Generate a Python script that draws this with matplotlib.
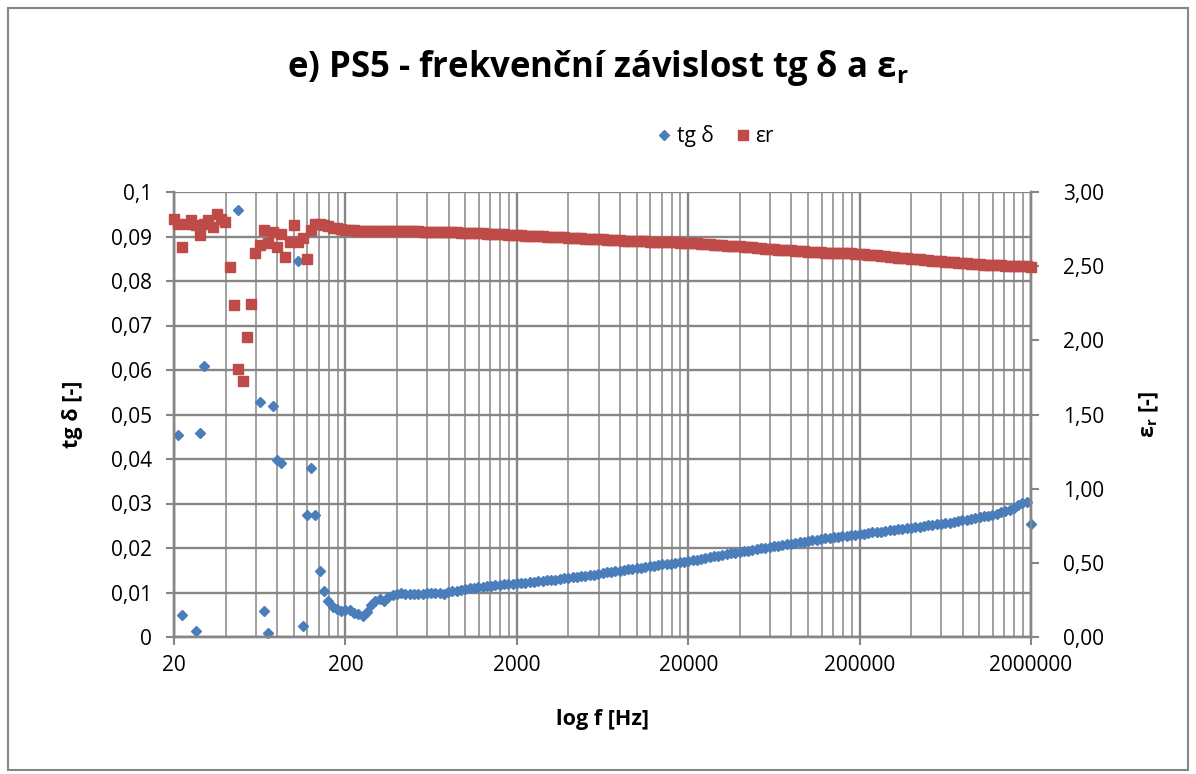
import matplotlib
matplotlib.use("Agg")
import matplotlib.pyplot as plt
import numpy as np
from matplotlib.ticker import FixedLocator, NullFormatter
from matplotlib.lines import Line2D
from matplotlib.patches import Rectangle

# frekvence mereni [Hz]
freq = [
    20, 21.2, 22.4, 23.8, 25.2, 26.7, 28.2, 29.9, 31.7, 33.6, 35.6, 37.7, 39.9, 42.3, 44.8, 47.4, 50.2, 53.2, 56.4, 59.7,
    63.2, 67.0, 71.0, 75.2, 79.6, 84.3, 89.3, 94.6, 100.2, 106.2, 112.5, 119.1, 126.2, 133.7, 141.6, 150.0, 158.9, 168.3, 178.3, 188.8,
    200, 212, 224, 238, 252, 267, 282, 299, 317, 336, 356, 377, 399, 423, 448, 474, 502, 532, 564, 597,
    632, 670, 710, 752, 796, 843, 893, 946, 1002, 1062, 1125, 1191, 1262, 1337, 1416, 1500, 1589, 1683, 1783, 1888,
    2000, 2119, 2244, 2377, 2518, 2667, 2825, 2992, 3170, 3358, 3557, 3767, 3991, 4227, 4477, 4743, 5024, 5321, 5637, 5971,
    6325, 6699, 7096, 7517, 7962, 8434, 8934, 9463, 10024, 10618, 11247, 11913, 12619, 13367, 14159, 14998, 15887, 16828, 17825, 18881,
    20000, 21190, 22440, 23770, 25180, 26670, 28250, 29920, 31700, 33580, 35570, 37670, 39910, 42270, 44770, 47430, 50240, 53210, 56370, 59710,
    63250, 66990, 70960, 75170, 79620, 84340, 89340, 94630, 100240, 106180, 112470, 119130, 126190, 133670, 141590, 149980, 158870, 168280, 178250, 188810,
    200000, 211900, 224400, 237700, 251800, 266700, 282500, 299200, 317000, 335800, 355700, 376700, 399100, 422700, 447700, 474300, 502400, 532100, 563700, 597100,
    632500, 669900, 709600, 751700, 796200, 843400, 893400, 946300, 1002400, 1061800, 1124700, 1191300, 1261900, 1336700, 1415900, 1499800, 1588700, 1682800, 1782500, 1888100,
    2000000,
]

nan = np.nan
# ztratovy cinitel tg delta [-] (nan = mimo graf)
tgd = [
    nan, 0.0454, 0.0049, nan, nan, 0.0014, 0.0459, 0.0608, nan, nan, nan, nan, nan, nan, nan, 0.0959, nan, nan, nan, nan,
    0.0528, 0.0059, 0.0009, 0.0520, 0.0397, 0.0391, nan, nan, nan, 0.0846, 0.0024, 0.0275, 0.0380, 0.0275, 0.0148, 0.0104, 0.0080, 0.0068, 0.0063, 0.0059,
    0.0061, 0.0060, 0.0053, 0.0052, 0.0048, 0.0056, 0.0071, 0.0080, 0.0086, 0.0082, 0.0089, 0.0094, 0.0097, 0.0098, 0.0097, 0.0097, 0.0096, 0.0097, 0.0097, 0.0098,
    0.0099, 0.0099, 0.0098, 0.0097, 0.0101, 0.0103, 0.0104, 0.0106, 0.0107, 0.0109, 0.0110, 0.0112, 0.0113, 0.0114, 0.0115, 0.0116, 0.0117, 0.0118, 0.0119, 0.0120,
    0.0121, 0.0122, 0.0122, 0.0123, 0.0124, 0.0125, 0.0126, 0.0127, 0.0128, 0.0129, 0.0131, 0.0132, 0.0133, 0.0134, 0.0135, 0.0137, 0.0138, 0.0139, 0.0140, 0.0142,
    0.0144, 0.0145, 0.0146, 0.0148, 0.0149, 0.0150, 0.0152, 0.0153, 0.0155, 0.0156, 0.0157, 0.0159, 0.0160, 0.0161, 0.0163, 0.0164, 0.0165, 0.0166, 0.0168, 0.0169,
    0.0170, 0.0172, 0.0174, 0.0175, 0.0177, 0.0179, 0.0181, 0.0182, 0.0184, 0.0186, 0.0188, 0.0189, 0.0191, 0.0193, 0.0194, 0.0196, 0.0198, 0.0199, 0.0201, 0.0202,
    0.0204, 0.0205, 0.0207, 0.0208, 0.0210, 0.0211, 0.0213, 0.0214, 0.0216, 0.0217, 0.0219, 0.0220, 0.0222, 0.0223, 0.0224, 0.0225, 0.0227, 0.0228, 0.0229, 0.0230,
    0.0231, 0.0232, 0.0233, 0.0235, 0.0236, 0.0237, 0.0238, 0.0240, 0.0241, 0.0242, 0.0243, 0.0245, 0.0246, 0.0247, 0.0248, 0.0250, 0.0251, 0.0252, 0.0253, 0.0255,
    0.0256, 0.0257, 0.0259, 0.0260, 0.0262, 0.0263, 0.0265, 0.0267, 0.0269, 0.0271, 0.0273, 0.0275, 0.0277, 0.0280, 0.0283, 0.0286, 0.0291, 0.0297, 0.0302, 0.0304,
    0.0255,
]

# relativni permitivita er [-]
epsr = [
    2.816, 2.787, 2.631, 2.787, 2.810, 2.776, 2.709, 2.787, 2.810, 2.765, 2.854, 2.820, 2.800, 2.492, 2.239, 1.805, 1.727, 2.023, 2.243, 2.586,
    2.642, 2.743, 2.653, 2.731, 2.626, 2.720, 2.563, 2.664, 2.776, 2.664, 2.687, 2.545, 2.743, 2.783, 2.787, 2.775, 2.769, 2.760, 2.754, 2.748,
    2.743, 2.742, 2.741, 2.740, 2.739, 2.739, 2.738, 2.738, 2.737, 2.737, 2.736, 2.736, 2.736, 2.735, 2.735, 2.735, 2.734, 2.734, 2.733, 2.733,
    2.733, 2.732, 2.731, 2.730, 2.729, 2.728, 2.727, 2.726, 2.725, 2.724, 2.723, 2.722, 2.721, 2.720, 2.719, 2.718, 2.716, 2.714, 2.712, 2.710,
    2.708, 2.707, 2.706, 2.705, 2.703, 2.702, 2.701, 2.700, 2.698, 2.697, 2.696, 2.694, 2.692, 2.690, 2.689, 2.688, 2.686, 2.685, 2.683, 2.682,
    2.680, 2.679, 2.678, 2.676, 2.675, 2.673, 2.672, 2.671, 2.670, 2.668, 2.667, 2.666, 2.665, 2.664, 2.663, 2.662, 2.661, 2.660, 2.659, 2.658,
    2.657, 2.655, 2.653, 2.651, 2.649, 2.647, 2.645, 2.643, 2.641, 2.639, 2.637, 2.635, 2.633, 2.631, 2.628, 2.626, 2.624, 2.621, 2.619, 2.616,
    2.614, 2.612, 2.610, 2.608, 2.606, 2.604, 2.602, 2.600, 2.598, 2.597, 2.595, 2.594, 2.592, 2.591, 2.590, 2.589, 2.588, 2.587, 2.586, 2.585,
    2.583, 2.580, 2.577, 2.575, 2.572, 2.569, 2.566, 2.563, 2.560, 2.557, 2.555, 2.552, 2.549, 2.547, 2.545, 2.542, 2.540, 2.537, 2.535, 2.532,
    2.530, 2.527, 2.525, 2.522, 2.520, 2.518, 2.516, 2.514, 2.512, 2.511, 2.509, 2.508, 2.506, 2.505, 2.503, 2.502, 2.501, 2.500, 2.499, 2.498,
    2.497,
]

xticks = [20, 200, 2000, 20000, 200000, 2000000]
xlabels = ["20", "200", "2000", "20000", "200000", "2000000"]
yticks = [0, 0.01, 0.02, 0.03, 0.04, 0.05, 0.06, 0.07, 0.08, 0.09, 0.1]
ylabels = ["0", "0,01", "0,02", "0,03", "0,04", "0,05", "0,06", "0,07", "0,08", "0,09", "0,1"]
y2ticks = [0, 0.5, 1.0, 1.5, 2.0, 2.5, 3.0]
y2labels = ["0,00", "0,50", "1,00", "1,50", "2,00", "2,50", "3,00"]

plt.rcParams["font.family"] = ["Open Sans", "DejaVu Sans"]
plt.rcParams["mathtext.fontset"] = "custom"
plt.rcParams["mathtext.rm"] = "Open Sans"
plt.rcParams["mathtext.bf"] = "Open Sans:bold"

blue = "#4A7EBB"
red = "#BE4B48"
grid_major = "#868686"
grid_minor = "#A0A0A0"

fig = plt.figure(figsize=(11.96, 7.74), dpi=100)
ax = fig.add_axes([174 / 1196, 1 - 637 / 774, (1031 - 174) / 1196, (637 - 192) / 774])
ax2 = ax.twinx()

ax.set_xscale("log")
ax.set_xlim(20, 2000000)
ax.set_ylim(0, 0.1)
ax2.set_ylim(0, 3.0)

minor = [b * k for b in xticks[:-1] for k in range(2, 10)]
ax.xaxis.set_major_locator(FixedLocator(xticks))
ax.xaxis.set_minor_locator(FixedLocator(minor))
ax.xaxis.set_minor_formatter(NullFormatter())
ax.set_xticks(xticks, xlabels)
ax.set_yticks(yticks, ylabels)
ax2.set_yticks(y2ticks, y2labels)

ax.grid(True, which="major", axis="both", color=grid_major, lw=1.7)
ax.grid(True, which="minor", axis="x", color=grid_minor, lw=1.4)
ax.set_axisbelow(True)

for a in (ax, ax2):
    for s in a.spines.values():
        s.set_color(grid_major)
        s.set_linewidth(1.7)
    a.spines["top"].set_visible(False)
ax.tick_params(axis="both", which="major", length=6, width=1.5, color=grid_major,
               labelsize=15, labelcolor="black")
ax.tick_params(axis="y", pad=10)
ax.tick_params(axis="x", pad=7)
ax.tick_params(axis="x", which="minor", length=0)
ax2.tick_params(axis="y", length=6, width=1.5, color=grid_major, labelsize=15, pad=17)

ax.plot(freq, tgd, linestyle="none", marker="D", ms=5.5, color=blue, mec=blue, clip_on=False, zorder=3)
ax2.plot(freq, epsr, linestyle="none", marker="s", ms=7, color=red, mec=red, clip_on=False, zorder=3)

ax.set_xlabel("log f [Hz]", fontsize=15.5, fontweight="bold", labelpad=24)
ax.set_ylabel("tg δ [-]", fontsize=15.5, fontweight="bold", labelpad=20)
ax2.set_ylabel(r"ε$_{\mathbf{r}}$ [-]", fontsize=15.5, fontweight="bold", labelpad=24)

fig.text(0.5, 1 - 68 / 774, r"e) PS5 - frekvenční závislost tg δ a ε$_{\mathbf{r}}$",
         ha="center", va="center", fontsize=25, fontweight="bold")

handles = [
    Line2D([], [], linestyle="none", marker="D", ms=5, color=blue, label="tg δ"),
    Line2D([], [], linestyle="none", marker="s", ms=6.5, color=red, label="εr"),
]
fig.legend(handles=handles, loc="center", bbox_to_anchor=(716 / 1196, 1 - 136 / 774), ncol=2,
           frameon=False, fontsize=15, handlelength=0.6, handletextpad=0.3, columnspacing=1.1)

fig.patches.append(Rectangle((8 / 1196, 4 / 774), 1 - 16 / 1196, 1 - 12 / 774, transform=fig.transFigure,
                             fill=False, edgecolor=grid_major, lw=1.5))

fig.savefig("out.png", dpi=100)
